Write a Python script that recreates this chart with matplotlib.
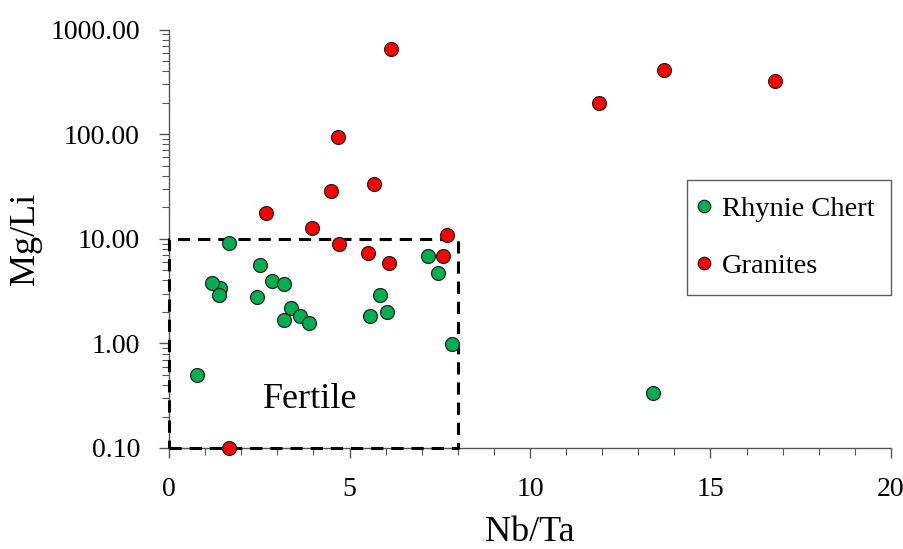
import matplotlib
matplotlib.use('Agg')
import matplotlib.pyplot as plt

# Données (Nb/Ta, Mg/Li)
rhynie_nbta = [1.41, 1.20, 1.37, 1.66, 2.52, 2.44, 2.85, 3.19, 3.38, 3.19, 3.63, 3.87,
               5.56, 5.84, 6.03, 7.17, 7.46, 7.85, 0.78, 13.42]
rhynie_mgli = [3.38, 3.75, 2.90, 9.1, 5.66, 2.79, 3.94, 3.72, 2.16, 1.68, 1.82, 1.58,
               1.81, 2.91, 1.99, 6.9, 4.68, 0.98, 0.50, 0.336]

granite_nbta = [6.15, 4.69, 5.67, 4.50, 2.69, 3.95, 4.71, 5.50, 6.09, 7.70, 7.60, 1.66,
                11.91, 13.71, 16.79]
granite_mgli = [656, 93.5, 33.3, 28.8, 17.5, 12.7, 8.9, 7.3, 5.9, 10.9, 6.8, 0.1,
                200, 410, 324]

# Zone "Fertile"
box_x = [0, 8, 8, 0, 0]
box_y = [0.1, 0.1, 10, 10, 0.1]

plt.rcParams['font.family'] = ['Liberation Serif', 'DejaVu Serif']

fig = plt.figure(figsize=(9.04, 5.49), dpi=100)
ax = fig.add_axes([0.187, 0.184, 0.7986, 0.762])

# cadre en tirets au-dessus des axes
ax.plot(box_x, box_y, color='black', lw=2.2, linestyle=(0, (4, 2.6)),
        clip_on=False, zorder=3)

ax.plot(rhynie_nbta, rhynie_mgli, 'o', ms=10, mfc='#00B050', mec='#222222', mew=0.9,
        linestyle='none', label='Rhynie Chert', clip_on=False, zorder=4)
ax.plot(granite_nbta, granite_mgli, 'o', ms=10, mfc='#FF0000', mec='#222222', mew=0.9,
        linestyle='none', label='Granites', clip_on=False, zorder=4)

ax.text(3.9, 0.29, 'Fertile', fontsize=26, ha='center', va='center')

ax.set_yscale('log')
ax.set_xlim(0, 20)
ax.set_ylim(0.1, 1000)
ax.set_yticks([0.1, 1, 10, 100, 1000])
ax.set_yticklabels(['0.10', '1.00', '10.00', '100.00', '1000.00'])
ax.set_xticks([0, 5, 10, 15, 20])
ax.set_xticks(range(0, 21), minor=True)

ax.spines['top'].set_visible(False)
ax.spines['right'].set_visible(False)
for s in ['left', 'bottom']:
    ax.spines[s].set_color('#555555')
    ax.spines[s].set_linewidth(1.0)

ax.tick_params(axis='both', which='major', labelsize=20, length=7, width=1.0,
               color='#555555', pad=14)
ax.tick_params(axis='both', which='minor', length=5, width=0.8, color='#555555')

ax.set_xlabel('Nb/Ta', fontsize=26, labelpad=10)
ax.set_ylabel('Mg/Li', fontsize=26, labelpad=6)

leg = ax.legend(loc='upper left', bbox_to_anchor=(0.717, 0.64), fontsize=20.5,
                frameon=True, fancybox=False, edgecolor='#333333', markerscale=0.9,
                handletextpad=0.55, labelspacing=1.1, borderpad=0.55, handlelength=0.15,
                borderaxespad=0)
leg.get_frame().set_linewidth(1.0)

plt.savefig('out.png', dpi=100)
plt.close()
